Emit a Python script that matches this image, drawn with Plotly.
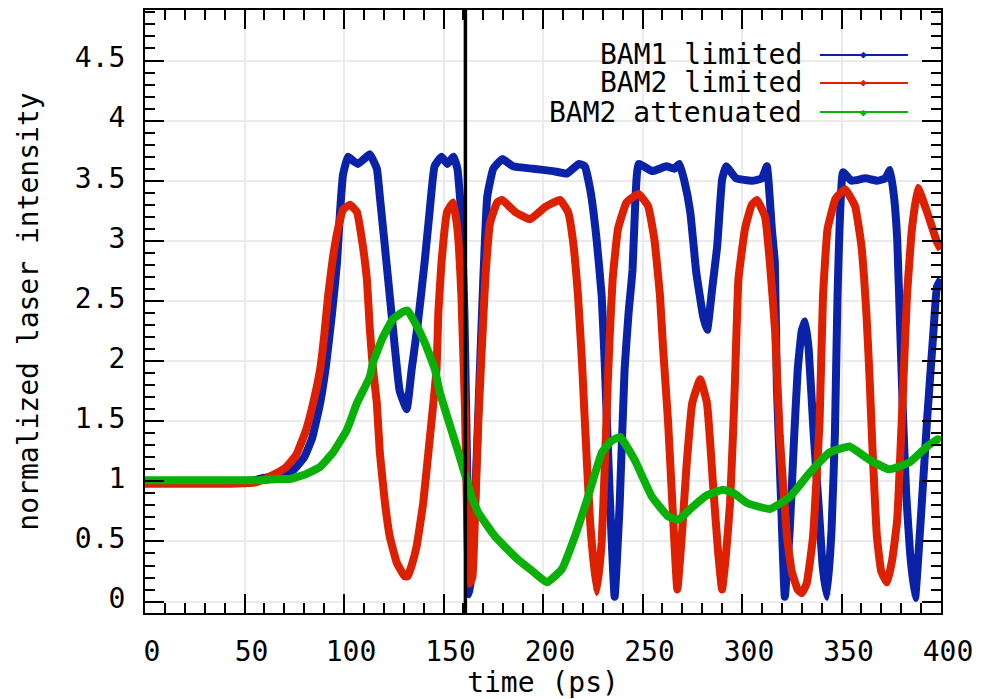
import plotly.graph_objects as go

# ---------------- data ----------------
bam1_t = [0, 20, 40, 55, 60, 65, 70, 75, 80, 84, 88, 91, 94, 96.5, 98, 99.5, 102, 105, 107, 110,
          113, 116.5, 118, 120.5, 123, 125.5, 128, 131.5, 134, 137, 140.5, 143, 145.5, 149, 152,
          155, 157, 159, 160.5, 162, 163, 164.5, 166, 168, 170, 172, 175, 179.5, 185, 195, 205,
          212, 218, 221, 224, 227, 229.5, 231, 233.5, 236, 238.5, 241, 243, 245, 246.5, 248, 255,
          262, 266, 268.5, 271, 274, 277, 280.5, 282.5, 285, 287.5, 290, 292, 297, 305, 310,
          312.5, 315, 316.5, 317.5, 319.5, 321.5, 324, 326, 328, 330, 331.7, 333.5, 336, 338.5,
          340.5, 342.7, 345, 346.7, 348, 350.8, 355, 362, 368, 372, 374.4, 376.5, 378, 379.5,
          381, 382.5, 384.5, 387, 389.5, 393, 396, 398, 400]
bam1_v = [1.0, 1.0, 1.0, 1.01, 1.03, 1.04, 1.06, 1.1, 1.2, 1.36, 1.65, 1.97, 2.4, 2.82, 3.24, 3.55,
          3.7, 3.66, 3.64, 3.68, 3.72, 3.6, 3.37, 2.96, 2.54, 2.12, 1.75, 1.6, 1.93, 2.3, 2.82,
          3.24, 3.62, 3.7, 3.64, 3.7, 3.6, 3.2, 2.4, 1.0, 0.06, 0.3, 0.9, 1.8, 2.68, 3.37, 3.6,
          3.68, 3.62, 3.6, 3.58, 3.56, 3.64, 3.62, 3.4, 3.0, 2.54, 1.99, 0.9, 0.04, 0.8, 1.93,
          2.4, 2.76, 3.37, 3.64, 3.58, 3.62, 3.6, 3.64, 3.5, 3.24, 2.74, 2.37, 2.26, 2.6, 2.95,
          3.51, 3.62, 3.52, 3.5, 3.52, 3.62, 3.1, 2.82, 1.8, 0.9, 0.04, 0.6, 1.3, 1.93, 2.25,
          2.33, 2.1, 1.4, 0.8, 0.3, 0.04, 0.6, 1.4, 2.54, 3.57, 3.5, 3.52, 3.5, 3.52, 3.59, 3.35,
          3.01, 2.26, 1.5, 0.9, 0.4, 0.03, 0.6, 1.51, 2.2, 2.62, 2.68]

bam2_t = [0, 20, 40, 55, 60, 64, 71, 76, 81, 84.5, 88, 90, 92, 94.5, 97, 99.5, 103, 106.5, 109,
          111.5, 113, 114.6, 116.5, 118, 120.6, 123, 126.6, 130.5, 132, 134, 136.5, 139.8, 142.4,
          144.9, 146.5, 147.4, 149, 151.8, 154.8, 157, 159, 160.8, 162, 163, 164.5, 166, 167.5,
          169.3, 171, 173.4, 177, 179.5, 186, 193.5, 201, 208.5, 212.6, 215, 217.6, 219.6, 221,
          223.6, 227, 229.5, 231, 232.5, 233.5, 235, 237.7, 242, 248, 252.8, 256, 258.8, 260.3,
          262.8, 265, 267.5, 270, 272, 275, 279, 282.4, 285.5, 288, 290, 292, 294, 295.5, 296.5,
          298.2, 301.5, 304.9, 307.5, 311.6, 314, 316.6, 319, 322.6, 325, 328, 330, 332.5, 335.7,
          339, 340.7, 343, 347, 351.8, 356.8, 360, 362.5, 364, 365.5, 367.8, 370, 372.9, 375.5,
          378, 381, 382.9, 385.4, 388.4, 393, 398, 400]
bam2_v = [0.98, 0.98, 0.98, 0.99, 1.02, 1.05, 1.12, 1.22, 1.43, 1.65, 1.93, 2.2, 2.54, 2.87, 3.1,
          3.26, 3.3, 3.24, 3.01, 2.68, 2.26, 1.93, 1.65, 1.24, 0.82, 0.54, 0.32, 0.21, 0.21, 0.3,
          0.46, 0.82, 1.24, 1.65, 1.93, 2.4, 2.82, 3.24, 3.32, 3.1, 2.54, 1.6, 0.6, 0.15, 0.2, 0.8,
          1.5, 2.12, 2.68, 3.15, 3.32, 3.34, 3.24, 3.18, 3.28, 3.34, 3.24, 3.01, 2.54, 1.99, 1.51,
          0.68, 0.08, 0.5, 1.1, 1.8, 2.2, 2.68, 3.1, 3.32, 3.39, 3.29, 3.01, 2.54, 2.12, 1.51,
          0.82, 0.1, 0.6, 1.1, 1.65, 1.85, 1.65, 0.96, 0.41, 0.1, 0.4, 0.82, 1.4, 1.85, 2.68, 3.1,
          3.3, 3.34, 3.2, 2.82, 2.26, 1.37, 0.54, 0.25, 0.1, 0.07, 0.15, 0.54, 1.51, 2.54, 3.1,
          3.35, 3.43, 3.29, 2.96, 2.4, 1.9, 1.3, 0.54, 0.25, 0.16, 0.35, 0.68, 1.79, 2.54, 3.1,
          3.44, 3.24, 2.99, 2.93]

att_t = [0, 20, 40, 60, 66, 73, 81, 88, 94.5, 101.5, 106.5, 113, 114.6, 119.6, 124.6, 129.6, 132,
         135.7, 140.7, 145.7, 148, 152.4, 157.5, 160, 164, 167.5, 176, 187.4, 195, 202, 209.5, 216,
         222.6, 229.6, 234, 238.7, 246, 254.8, 262.8, 268, 274, 282, 290.5, 296, 302.5, 314, 324,
         334, 344, 354, 364, 374, 384.4, 393, 398.5, 400]
att_v = [1.01, 1.01, 1.01, 1.01, 1.02, 1.02, 1.06, 1.12, 1.24, 1.43, 1.65, 1.87, 1.99, 2.2, 2.35,
         2.41, 2.42, 2.32, 2.15, 1.93, 1.75, 1.51, 1.24, 1.1, 0.88, 0.74, 0.54, 0.35, 0.25, 0.16,
         0.27, 0.54, 0.87, 1.24, 1.33, 1.37, 1.18, 0.87, 0.71, 0.68, 0.77, 0.88, 0.93, 0.9, 0.82,
         0.77, 0.87, 1.07, 1.24, 1.29, 1.18, 1.1, 1.16, 1.29, 1.35, 1.34]

series_names = ["BAM1 limited", "BAM2 limited", "BAM2 attenuated"]
series_colors = ["#0a22a8", "#dc2000", "#08b008"]
marker_time = 161

x_ticks = [0, 50, 100, 150, 200, 250, 300, 350, 400]
x_tick_labels = ["0", "50", "100", "150", "200", "250", "300", "350", "400"]
y_ticks = [0, 0.5, 1, 1.5, 2, 2.5, 3, 3.5, 4, 4.5]
y_tick_labels = ["0", "0.5", "1", "1.5", "2", "2.5", "3", "3.5", "4", "4.5"]

# ---------------- figure ----------------
FONT = "DejaVu Sans Mono"
FSIZE = 28
fig = go.Figure()
for t, v, name, col in zip([bam1_t, bam2_t, att_t], [bam1_v, bam2_v, att_v],
                           series_names, series_colors):
    fig.add_trace(go.Scatter(x=t, y=v, mode="lines", name=name,
                             line=dict(color=col, width=8, shape="spline", smoothing=0.35),
                             showlegend=False))

axis_common = dict(
    showline=True, linecolor="black", linewidth=2, mirror="ticks",
    ticks="inside", ticklen=19, tickwidth=2, tickcolor="black",
    showgrid=True, gridcolor="#ebebeb", gridwidth=1.5, zeroline=False,
    automargin=False,
    tickfont=dict(family=FONT, size=FSIZE, color="black"),
)
fig.update_xaxes(range=[0, 400], tickvals=x_ticks, ticktext=x_tick_labels,
                 minor=dict(dtick=10, ticks="inside", ticklen=10, tickwidth=2,
                            tickcolor="black", showgrid=False),
                 ticklabelstandoff=12, ticklabelshift=7,
                 title=dict(text="time (ps)", standoff=12,
                            font=dict(family=FONT, size=FSIZE, color="black")),
                 **axis_common)
fig.update_yaxes(range=[-0.095, 4.92], tickvals=y_ticks, ticktext=y_tick_labels,
                 minor=dict(dtick=0.1, tick0=0, ticks="inside", ticklen=10, tickwidth=2,
                            tickcolor="black", showgrid=False),
                 ticklabelstandoff=12, ticklabelshift=-3,
                 title=dict(text="normalized laser intensity", standoff=28,
                            font=dict(family=FONT, size=FSIZE, color="black")),
                 **axis_common)

# vertical marker line
fig.add_shape(type="line", x0=marker_time, x1=marker_time, xref="x",
              y0=0, y1=1, yref="paper", line=dict(color="black", width=3.5))

# gnuplot-style key (text right-aligned, sample on the right)
key_text_x = 0.8285
key_line_x = (0.848, 0.9585)
key_rows_y = [0.9254, 0.879, 0.8308]
for name, col, ky in zip(series_names, series_colors, key_rows_y):
    fig.add_annotation(x=key_text_x, y=ky, xref="paper", yref="paper", text=name,
                       showarrow=False, xanchor="right", yanchor="middle", height=27,
                       font=dict(family=FONT, size=FSIZE, color="black"))
    fig.add_shape(type="line", xref="paper", yref="paper", x0=key_line_x[0], x1=key_line_x[1],
                  y0=ky, y1=ky, line=dict(color=col, width=2))
    fig.add_annotation(x=(key_line_x[0] + key_line_x[1]) / 2, y=ky, xref="paper",
                       yref="paper", text="◆", showarrow=False, xanchor="center",
                       yanchor="middle", font=dict(size=11, color=col))

# the page body adds an 8px offset, so the figure is sized to fit the 991x699 window
fig.update_layout(
    width=983, height=691,
    margin=dict(l=137, r=50, t=2, b=86),
    plot_bgcolor="white", paper_bgcolor="white",
    font=dict(family=FONT, color="black"),
)

fig.write_html("out.html")
